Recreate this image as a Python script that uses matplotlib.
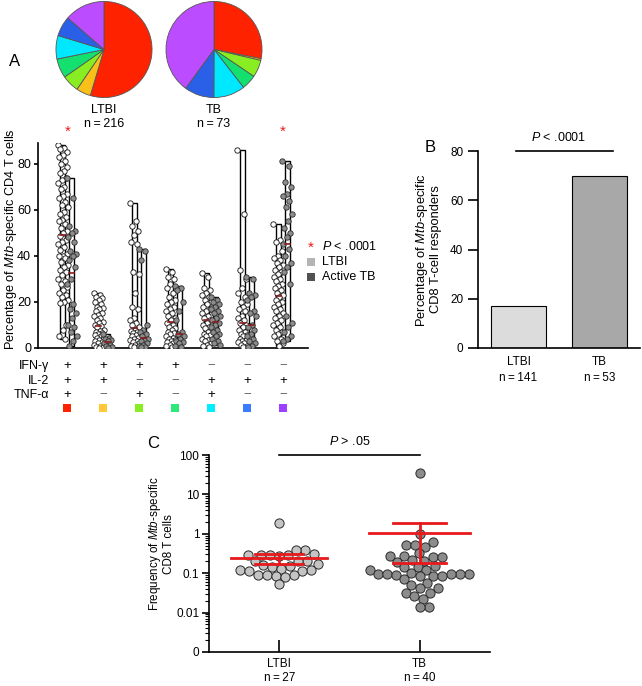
import numpy as np
import matplotlib
matplotlib.use('Agg')
import matplotlib.pyplot as plt
from matplotlib.patches import Rectangle
from matplotlib.ticker import LogLocator, NullFormatter

plt.rcParams['font.family'] = ['Liberation Sans', 'DejaVu Sans']
plt.rcParams['mathtext.fontset'] = 'custom'
plt.rcParams['mathtext.rm'] = 'Liberation Sans'
plt.rcParams['mathtext.it'] = 'Liberation Sans:italic'
plt.rcParams['axes.linewidth'] = 1.2

# ---------------- data ----------------
# pie fractions (%) per cytokine combination
combo_colors = ['#ff2200', '#ffc83a', '#88ee22', '#2ee878', '#00eeff', '#3a7cff', '#9a40ff']
pie_colors = ['#ff2200', '#f8c018', '#88ee22', '#14e070', '#00e8ff', '#2a60e8', '#bb4cff']
pie_ltbi = [54.6, 4.9, 5.8, 6.5, 7.9, 6.7, 13.6]
pie_tb = [28.1, 0.6, 5.8, 5.0, 10.6, 10.0, 40.0]
pie_names = ['LTBI', 'TB']
pie_n = [216, 73]

# sign table
ifn_row = ['+', '+', '+', '+', '\u2212', '\u2212', '\u2212']
il2_row = ['+', '+', '\u2212', '\u2212', '+', '+', '+']
tnf_row = ['+', '\u2212', '+', '\u2212', '+', '\u2212', '\u2212']
signif_groups = [0, 6]

# panel A: % of Mtb-specific CD4 T cells per combination (reduced sample)
ltbi_vals = [
    [88, 87, 86.5, 85, 84, 83, 81, 80, 78.5, 77, 76, 74, 73, 71.5, 70, 69, 67, 66, 65, 63.5,
     62, 61, 59, 58, 57, 55.5, 55, 54, 52, 51, 50, 48.5, 47, 46, 45, 44, 42.5, 41, 40, 40,
     39, 37.5, 36, 35, 34, 33, 31.5, 30, 29, 28, 26.5, 25, 24, 23, 22, 21, 20, 19.5, 10, 8, 5, 4],
    [24, 23, 22, 21.5, 21, 20, 19, 18, 17.5, 17, 16, 15, 14.5, 14, 13, 12, 11.5, 11, 10, 9.5,
     9, 8, 7.5, 7, 6.5, 6, 5.5, 5, 4.5, 4, 3.5, 3, 2.5, 2, 1.5, 1, 0.6, 0.3, 0.2],
    [63, 55, 53, 51, 49, 46, 45, 33, 32, 24, 18, 17, 13, 12, 11, 10, 9, 8, 7.5, 7, 6.5, 6,
     5.5, 5, 4.5, 4, 3.5, 3, 2.5, 2, 1.5, 1, 0.5, 0.3],
    [34.5, 33, 31, 30, 28, 26, 24, 22, 21, 20, 19, 18, 17, 16, 15, 14, 13, 12, 11, 10, 9,
     8.5, 8, 7, 6.5, 6, 5, 4.5, 4, 3.5, 3, 2.5, 2, 1.5, 1, 0.5],
    [32.5, 31, 26, 25, 24, 23, 22, 21, 20, 19, 18, 17, 16, 15, 14, 13, 12, 11, 10, 9, 8.5,
     8, 7, 6, 5.5, 5, 4, 3.5, 3, 2, 1.5, 1, 0.5],
    [86, 58, 34, 30, 26, 24, 22, 20, 19, 18, 17, 16, 14, 13, 12, 11, 10, 9, 8, 7, 6, 5.5, 5,
     4, 3.5, 3, 2.5, 2, 1.5, 1, 0.5],
    [54, 47, 46, 42, 40, 39, 38, 37, 36, 35, 34, 33, 32, 31, 30, 29, 28, 27, 26, 25, 24, 23,
     22, 21, 20, 19, 18, 17, 16, 15, 14, 13, 12, 11, 10, 9, 8, 7, 6, 5, 4, 3, 2, 1],
]
tb_vals = [
    [74, 65, 53, 51, 50, 48, 46, 42, 41, 40, 38, 35, 30, 28, 19, 17, 15, 13, 10, 9, 7, 5, 3, 1],
    [6, 4.5, 4, 3.5, 3, 2, 1.5, 1, 0.5, 0.2],
    [43, 42, 38, 10, 8, 7, 6, 5, 4, 3.5, 3, 2, 1.5, 1, 0.5, 0.3],
    [27, 26, 25, 20, 16, 12, 7, 6, 5, 4, 3, 2.5, 2, 1, 0.5],
    [22, 21, 20, 19, 18, 17, 16, 15, 14, 13, 12, 11, 10, 9, 8, 7, 6, 5, 4, 3, 2, 1.5],
    [31, 30, 24, 23, 22, 21, 16, 15, 14, 10, 9, 8, 6, 5, 4, 3, 2, 1, 0.5],
    [81, 79, 72, 70, 67, 66, 64, 61, 58, 55, 52, 50, 48, 45, 43, 40, 37, 35, 33, 28, 14, 11,
     9, 7, 5, 4, 3],
]

# panel B: % of CD8 responders
b_groups = ['LTBI', 'TB']
b_n = [141, 53]
b_pct = [17, 70]

# panel C: frequency of Mtb-specific CD8 T cells
c_groups = ['LTBI', 'TB']
c_n = [27, 40]
c_ltbi = [1.9, 0.39, 0.38, 0.31, 0.29, 0.29, 0.29, 0.29, 0.27, 0.21, 0.2, 0.2, 0.17, 0.16,
          0.15, 0.14, 0.13, 0.12, 0.12, 0.115, 0.115, 0.092, 0.09, 0.088, 0.085, 0.08, 0.052]
c_tb = [34, 1.0, 0.62, 0.53, 0.52, 0.47, 0.32, 0.27, 0.27, 0.26, 0.26, 0.22, 0.21, 0.19,
        0.15, 0.144, 0.14, 0.12, 0.12, 0.1, 0.098, 0.098, 0.098, 0.098, 0.094, 0.092, 0.086,
        0.086, 0.083, 0.07, 0.057, 0.05, 0.043, 0.042, 0.031, 0.031, 0.026, 0.022, 0.0135, 0.0135]
c_mean = [0.24, 1.05]
c_lo = [0.175, 0.18]
c_hi = [0.31, 1.9]

# ---------------- layout helpers ----------------
W, H = 642.0, 686.0


def box(x0, y0, x1, y1):
    # pixel box (top-left origin) -> figure fraction rect
    return [x0 / W, 1 - y1 / H, (x1 - x0) / W, (y1 - y0) / H]


def jitter(vals, hw):
    # deterministic spread of points inside a column
    order = np.argsort(vals)[::-1]
    xs = np.zeros(len(vals))
    for k, i in enumerate(order):
        xs[i] = ((k * 0.618034) % 1.0 - 0.5) * 2 * hw
    return xs


def swarm(vals, diam, px_dec, px_unit):
    ys = np.log10(vals) * px_dec
    order = np.argsort(ys)
    placed = []
    xs = np.zeros(len(vals))
    for i in order:
        y = ys[i]
        found = None
        for step in range(400):
            for sgn in ([0] if step == 0 else [1, -1]):
                x = sgn * step * 0.5
                if all((x - px) ** 2 + (y - py) ** 2 >= diam ** 2 for px, py in placed):
                    found = x
                    break
            if found is not None:
                break
        placed.append((found, y))
        xs[i] = found
    return xs / px_unit


fig = plt.figure(figsize=(6.42, 6.86), dpi=100)

# ---------------- pies ----------------
for k, (frac, cx) in enumerate(zip([pie_ltbi, pie_tb], [104, 214])):
    axp = fig.add_axes(box(cx - 49, 0.5, cx + 49, 98.5))
    axp.pie(frac, colors=pie_colors, startangle=90, counterclock=False,
            wedgeprops=dict(edgecolor='#555555', linewidth=0.6))
    axp.set_xlim(-1.02, 1.02)
    axp.set_ylim(-1.02, 1.02)
    fig.text(cx / W, 1 - 110 / H, pie_names[k], ha='center', va='center', fontsize=9)
    fig.text(cx / W, 1 - 124 / H, 'n\u2009=\u2009%d' % pie_n[k], ha='center', va='center', fontsize=9)

fig.text(15 / W, 1 - 62 / H, 'A', ha='center', va='center', fontsize=12)

# ---------------- panel A ----------------
ax = fig.add_axes(box(38, 143, 308, 348))
g = np.arange(7)
off = 0.125
bw = 0.14
for i in g:
    for vals, dx, fc, ec in [(ltbi_vals[i], -off, 'white', '#111111'),
                             (tb_vals[i], off, '#8c8c8c', '#2a2a2a')]:
        v = np.array(vals, dtype=float)
        x0 = i + dx
        ax.add_patch(Rectangle((x0 - bw / 2, v.min()), bw, v.max() - v.min(),
                               facecolor='white', edgecolor='black', linewidth=1.0, zorder=2))
        ax.scatter(x0 + jitter(v, 0.14), v, s=15, facecolor=fc, edgecolor=ec,
                   linewidth=0.6, zorder=3)
        med = np.median(v)
        ax.plot([x0 - bw / 2, x0 + bw / 2], [med, med], color='#8b1a1a', lw=1.2, zorder=4)

ax.set_xlim(-0.82, 6.70)
ax.set_ylim(0, 89)
ax.set_yticks([0, 20, 40, 60, 80])
ax.set_xticks([])
ax.tick_params(axis='y', direction='out', length=3, width=1.2, labelsize=9, pad=2)
for s in ['top', 'right']:
    ax.spines[s].set_visible(False)
ax.set_ylabel('Percentage of $\\mathit{Mtb}$-specific CD4 T cells', fontsize=9.2)
ax.yaxis.set_label_coords(-0.072, 0.53)

for i in signif_groups:
    ax.text(i, 1.055, '*', color='#e8191c', fontsize=11, ha='center', va='center',
            transform=ax.get_xaxis_transform())

tr = ax.get_xaxis_transform()
rows_y = [-0.088, -0.161, -0.229]
for row, name, yy in zip([ifn_row, il2_row, tnf_row], ['IFN-\u03b3', 'IL-2', 'TNF-\u03b1'], rows_y):
    ax.text(-0.5, yy, name, ha='right', va='center', fontsize=9, transform=tr)
    for i, s in zip(g, row):
        ax.text(i, yy, s, ha='center', va='center', fontsize=9.5, transform=tr,
                color='black' if s == '+' else '#666666')
ax.scatter(g, [-0.293] * 7, marker='s', s=34, c=combo_colors, transform=tr, clip_on=False,
           linewidths=0)

# legend of A
fig.text(311 / W, 1 - 248 / H, '*', color='#e8191c', fontsize=11, ha='center', va='center')
fig.text(322 / W, 1 - 246 / H, '$\\mathit{P}$ < .0001', fontsize=9, ha='left', va='center')
fig.patches.append(Rectangle((307 / W, 1 - 266 / H), 8 / W, 8 / H, transform=fig.transFigure,
                             facecolor='#b4b4b4', edgecolor='none', figure=fig))
fig.patches.append(Rectangle((307 / W, 1 - 281 / H), 8 / W, 8 / H, transform=fig.transFigure,
                             facecolor='#505050', edgecolor='none', figure=fig))
fig.text(322 / W, 1 - 262 / H, 'LTBI', fontsize=9, ha='left', va='center')
fig.text(322 / W, 1 - 277 / H, 'Active TB', fontsize=9, ha='left', va='center')

# ---------------- panel B ----------------
axb = fig.add_axes(box(478, 151, 640, 348))
axb.bar([0, 1], b_pct, width=0.68, color=['#dcdcdc', '#a8a8a8'], edgecolor='black', linewidth=0.8)
axb.set_xlim(-0.5, 1.5)
axb.set_ylim(0, 80)
axb.set_yticks([0, 20, 40, 60, 80])
axb.set_xticks([0, 1])
axb.set_xticklabels(['%s\nn\u2009=\u2009%d' % (a, n) for a, n in zip(b_groups, b_n)],
                    fontsize=8.5, linespacing=1.4)
axb.tick_params(axis='x', length=0, pad=6)
axb.tick_params(axis='y', direction='out', length=7, width=1.2, labelsize=8.5)
for s in ['top', 'right']:
    axb.spines[s].set_visible(False)
axb.set_ylabel('Percentage of $\\mathit{Mtb}$-specific\nCD8 T-cell responders', fontsize=9.3,
               linespacing=1.0)
axb.yaxis.set_label_coords(-0.22, 0.5)
axb.plot([-0.03, 1.17], [80, 80], color='black', lw=1.2, clip_on=False)
axb.text(0.49, 85.3, '$\\mathit{P}$ < .0001', ha='center', va='center', fontsize=9)
fig.text(430 / W, 1 - 147 / H, 'B', ha='center', va='center', fontsize=12)

# ---------------- panel C ----------------
axc = fig.add_axes(box(209, 455, 490, 652))
axc.set_yscale('log')
axc.set_xlim(-0.5, 1.5)
axc.set_ylim(1e-3, 100)
for k, (vals, fc) in enumerate([(c_ltbi, '#c4c4c4'), (c_tb, '#8c8c8c')]):
    v = np.array(vals)
    axc.scatter(k + swarm(v, 9.0, 39.4, 140.5), v, s=44, facecolor=fc, edgecolor='#2a2a2a',
                linewidth=0.7, zorder=3)
mean_hw = [0.34, 0.36]
cap_hw = [0.17, 0.19]
for k in range(2):
    axc.plot([k - mean_hw[k], k + mean_hw[k]], [c_mean[k]] * 2, color='#e8191c', lw=2, zorder=4)
    axc.plot([k, k], [c_lo[k], c_hi[k]], color='#e8191c', lw=2, zorder=4)
    for yv in (c_lo[k], c_hi[k]):
        axc.plot([k - cap_hw[k], k + cap_hw[k]], [yv, yv], color='#e8191c', lw=2, zorder=4)

axc.set_yticks([1e-3, 1e-2, 1e-1, 1, 10, 100])
axc.set_yticklabels(['0', '0.01', '0.1', '1', '10', '100'])
axc.yaxis.set_minor_locator(LogLocator(base=10, subs=np.arange(2, 10)))
axc.yaxis.set_minor_formatter(NullFormatter())
axc.tick_params(axis='y', which='major', direction='out', length=5, width=1.2, labelsize=8.5, pad=2)
axc.tick_params(axis='y', which='minor', direction='out', length=3, width=0.8)
axc.set_xticks([0, 1])
axc.set_xticklabels(['%s\nn\u2009=\u2009%d' % (a, n) for a, n in zip(c_groups, c_n)],
                    fontsize=8.5, linespacing=1.3)
axc.tick_params(axis='x', direction='in', length=9, width=1.2, pad=4)
for s in ['top', 'right']:
    axc.spines[s].set_visible(False)
axc.set_ylabel('Frequency of $\\mathit{Mtb}$-specific\nCD8 T cells', fontsize=8.4, linespacing=1.0)
axc.yaxis.set_label_coords(-0.12, 0.55)
axc.plot([0, 1], [100, 100], color='black', lw=1.2, clip_on=False)
axc.text(0.5, 225, '$\\mathit{P}$ > .05', ha='center', va='center', fontsize=9)
fig.text(153 / W, 1 - 444 / H, 'C', ha='center', va='center', fontsize=12)

fig.savefig('out.png', dpi=100)
